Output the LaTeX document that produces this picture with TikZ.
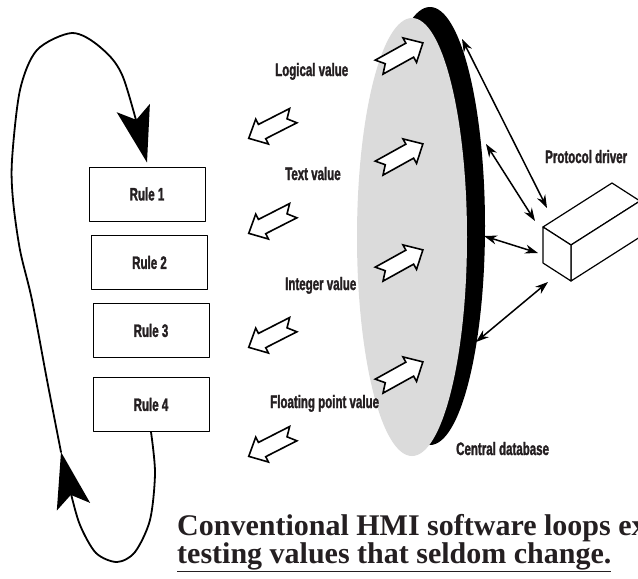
\documentclass[tikz,border=0pt]{standalone}
\usepackage{fontspec}
\setmainfont{Liberation Serif}
\newfontfamily\condfont[FakeStretch=0.64,FakeBold=1.6]{Liberation Sans}
\usepackage{tikz}
\usetikzlibrary{arrows.meta}
\usetikzlibrary{positioning}
\definecolor{dbgray}{rgb}{0.86,0.86,0.86}
\definecolor{inkgray}{rgb}{0.14,0.12,0.13}
\tikzset{
  lbl/.style={anchor=base west,inner sep=0pt,text=inkgray,font=\condfont\bfseries\fontsize{18}{20}\selectfont},
  rulebox/.style={draw,line width=1pt,minimum width=116pt,minimum height=54pt,inner sep=0pt,text=inkgray,font=\condfont\bfseries\fontsize{18}{20}\selectfont},
  capline/.style={anchor=base west,inner sep=0pt,text=inkgray,font=\bfseries\fontsize{30}{28}\selectfont},
  bigloop/.style={line width=1.8pt,-{Stealth[length=56pt,width=34pt,inset=12pt]}},
  dbl/.style={line width=1.5pt,{Stealth[length=13pt,width=9pt]}-{Stealth[length=13pt,width=9pt]}},
  valarrow/.pic={\draw[line width=1.6pt,fill=white,line join=miter] (-25,8) -- (-18,0) -- (-25,-8) -- (10,-8) -- (10,-14) -- (25,0) -- (10,14) -- (10,8) -- cycle;}
}

\begin{document}
\begin{tikzpicture}[line cap=round,line join=round,x=1pt,y=-1pt]
\useasboundingbox (0,0) rectangle (638,579);
\clip (0,0) rectangle (638,579);
\fill[black] (430,226) ellipse [x radius=55pt,y radius=219pt];
\fill[dbgray] (412,237) ellipse [x radius=55pt,y radius=219pt];
\node[rulebox] (r1) at (147,194) {Rule 1};
\node[rulebox] (r2) at (149.5,262.5) {Rule 2};
\node[rulebox] (r3) at (151,330.5) {Rule 3};
\node[rulebox] (r4) at (151,404.5) {Rule 4};
\node[lbl] (logical) at (275,76) {Logical value};
\node[lbl] (textval) at (285,180) {Text value};
\node[lbl] (integer) at (285,290) {Integer value};
\node[lbl] (floating) at (270,408) {Floating point value};
\node[lbl] (driver) at (545,163) {Protocol driver};
\node[lbl] (central) at (456,455) {Central database};
\foreach \y in {55,156,262,374}
\pic[rotate=29] at (401,\y) {valarrow};
\foreach \y in {127,222,336,445}
\pic[rotate=207] at (271,\y) {valarrow};
\coordinate (fa) at (543,227);
\coordinate (fb) at (571,245);
\coordinate (fc) at (571,281);
\coordinate (fd) at (543,263);
\coordinate (fe) at (612,183);
\coordinate (ff) at (640,201);
\coordinate (fg) at (640,237);
\filldraw[fill=white,line width=1.2pt] (fa) -- (fe) -- (ff) -- (fb) -- cycle;
\filldraw[fill=white,line width=1.2pt] (fb) -- (ff) -- (fg) -- (fc) -- cycle;
\filldraw[fill=white,line width=1.2pt] (fa) -- (fb) -- (fc) -- (fd) -- cycle;
\coordinate (d1) at (462,39);
\coordinate (d2) at (486,144);
\coordinate (d3) at (484,236);
\coordinate (d4) at (476,342);
\coordinate (p1) at (547,208);
\coordinate (p2) at (535,221);
\coordinate (p3) at (538,253);
\coordinate (p4) at (548,282);
\draw[dbl] (d1) -- (p1);
\draw[dbl] (d2) -- (p2);
\draw[dbl] (d3) -- (p3);
\draw[dbl] (d4) -- (p4);
\coordinate (mid) at (61,452);
\coordinate (r1in) at ([yshift=4pt]r1.north);
\draw[bigloop] plot[smooth] coordinates {(r4.south) (155,473) (150,520) (135,552) (117,562) (96,553) (80,525) (70,490) (mid)};
\draw[bigloop] plot[smooth] coordinates {(mid) (47,380) (32,300) (20,250) (13,200) (12,160) (20,90) (37,50) (72,33) (100,47) (123,77) (r1in)};
\node[capline] (cap1) at (177,535) {Conventional HMI software loops ex};
\node[capline] (cap2) at (177,563) {\underline{testing values that seldom change.}};
\end{tikzpicture}
\end{document}
